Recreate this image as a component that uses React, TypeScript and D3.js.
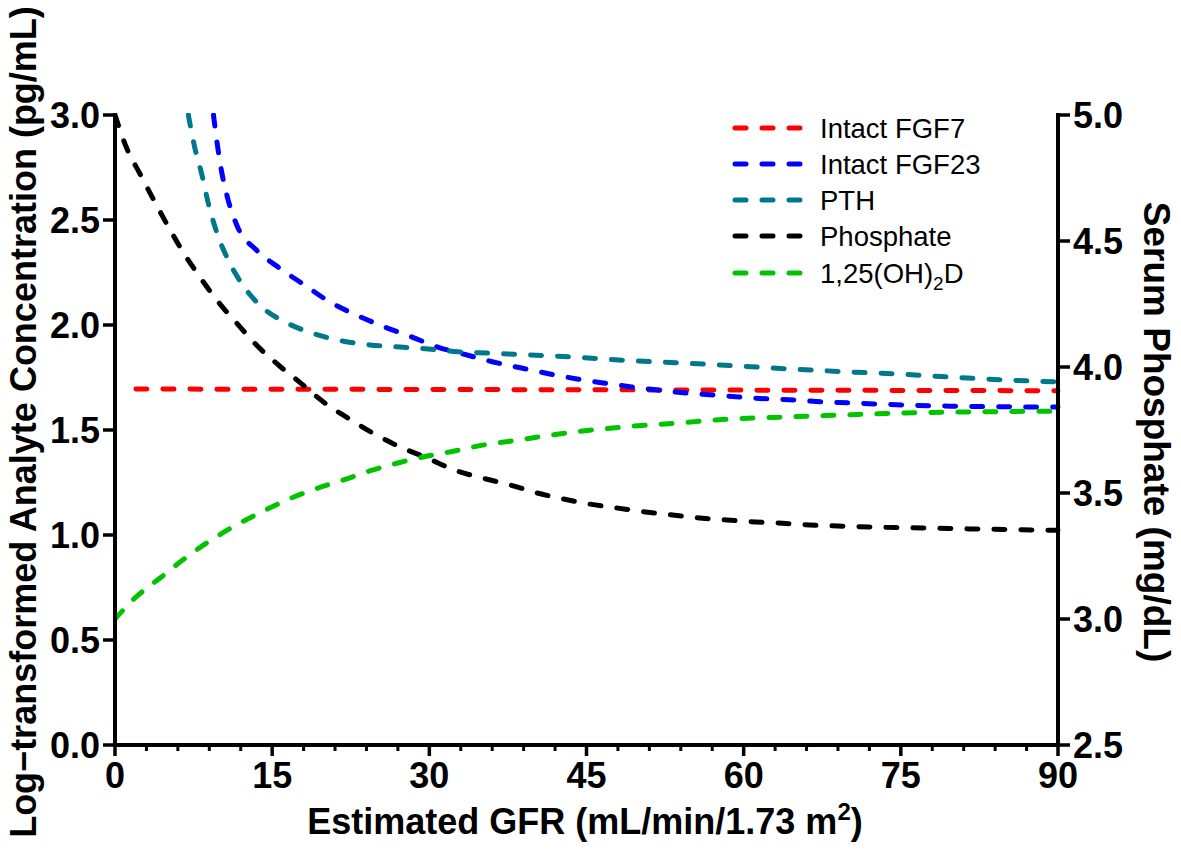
import React from "react";
import * as d3 from "d3";

// GFR (x) values and analyte values
const fgf7Gfr = [2, 30, 60, 90];
const fgf7Val = [1.695, 1.693, 1.69, 1.687];

const fgf23Gfr = [9.4, 9.8, 10.2, 10.8, 11.7, 13.5, 15.7, 18.1, 20.5, 23.0, 25.5, 28.2, 30.8, 33.6, 36.1, 38.8, 41.5, 44.1, 46.6, 49.3, 51.8, 54.6, 57.1, 59.6, 62.3, 64.9, 67.5, 70.1, 72.7, 75.4, 78.1, 80.8, 83.5, 86.1, 90];
const fgf23Val = [3.0, 2.848, 2.724, 2.595, 2.467, 2.357, 2.271, 2.19, 2.11, 2.048, 1.995, 1.945, 1.895, 1.857, 1.824, 1.795, 1.767, 1.743, 1.724, 1.705, 1.69, 1.676, 1.667, 1.657, 1.648, 1.643, 1.634, 1.629, 1.624, 1.619, 1.615, 1.613, 1.611, 1.61, 1.609];

const pthGfr = [7.0, 7.6, 8.3, 8.9, 9.7, 10.8, 12.2, 14.0, 16.4, 18.9, 21.7, 24.3, 27.2, 29.9, 32.7, 35.6, 38.3, 43.6, 48.9, 54.1, 59.4, 64.6, 69.9, 74.9, 79.7, 84.7, 90];
const pthVal = [3.0, 2.848, 2.714, 2.581, 2.443, 2.31, 2.19, 2.086, 2.01, 1.96, 1.924, 1.905, 1.895, 1.886, 1.873, 1.866, 1.86, 1.848, 1.831, 1.819, 1.805, 1.79, 1.777, 1.766, 1.752, 1.739, 1.729];

const phosGfr = [0, 1.1, 2.4, 3.8, 5.1, 6.5, 8.1, 9.9, 11.7, 13.5, 15.6, 17.7, 19.9, 22.2, 24.6, 27.2, 29.8, 32.4, 35.0, 37.7, 40.3, 42.8, 45.3, 48.0, 50.6, 53.2, 55.8, 58.4, 61.1, 63.7, 66.3, 69.0, 72.1, 77.1, 82.4, 90];
const phosVal = [5.0, 4.87, 4.765, 4.655, 4.556, 4.456, 4.357, 4.256, 4.17, 4.087, 4.008, 3.937, 3.861, 3.798, 3.738, 3.683, 3.639, 3.591, 3.56, 3.532, 3.5, 3.476, 3.456, 3.44, 3.425, 3.413, 3.401, 3.393, 3.385, 3.38, 3.373, 3.369, 3.365, 3.361, 3.357, 3.352];

const vitDGfr = [0, 1.9, 4.3, 6.7, 8.9, 11.3, 13.8, 16.4, 19.1, 21.8, 24.3, 27.0, 29.8, 32.4, 35.1, 37.9, 43.1, 48.4, 53.6, 58.7, 63.9, 69.2, 74.6, 79.9, 85.1, 90];
const vitDVal = [0.6, 0.7, 0.795, 0.89, 0.967, 1.04, 1.105, 1.167, 1.219, 1.262, 1.305, 1.343, 1.376, 1.4, 1.428, 1.448, 1.486, 1.514, 1.533, 1.552, 1.562, 1.571, 1.58, 1.585, 1.588, 1.59];

const xTicks = [0, 15, 30, 45, 60, 75, 90];
const xMinorTicks = d3.range(0, 91, 3);
const yLeftTicks = [0, 0.5, 1.0, 1.5, 2.0, 2.5, 3.0];
const yRightTicks = [2.5, 3.0, 3.5, 4.0, 4.5, 5.0];

const legendLabels = ["Intact FGF7", "Intact FGF23", "PTH", "Phosphate", "1,25(OH)2D"];

const W = 1181, H = 857;
const X0 = 115, X1 = 1058, Y0 = 745, Y1 = 115;
const FONT = "'Liberation Sans', Arial, Helvetica, sans-serif";

export default function App() {
  const x = d3.scaleLinear().domain([0, 90]).range([X0, X1]);
  const yL = d3.scaleLinear().domain([0, 3]).range([Y0, Y1]);
  const yR = d3.scaleLinear().domain([2.5, 5]).range([Y0, Y1]);

  const mk = (gs: number[], vs: number[]) => gs.map((g, i) => [g, vs[i]] as [number, number]);
  const lineL = d3.line<[number, number]>().x(d => x(d[0])).y(d => yL(d[1])).curve(d3.curveMonotoneX);
  const lineR = d3.line<[number, number]>().x(d => x(d[0])).y(d => yR(d[1])).curve(d3.curveMonotoneX);

  const series = [
    { name: legendLabels[0], color: "#ff0000", d: lineL(mk(fgf7Gfr, fgf7Val)) },
    { name: legendLabels[1], color: "#0000ff", d: lineL(mk(fgf23Gfr, fgf23Val)) },
    { name: legendLabels[2], color: "#00788c", d: lineL(mk(pthGfr, pthVal)) },
    { name: legendLabels[3], color: "#000000", d: lineR(mk(phosGfr, phosVal)) },
    { name: legendLabels[4], color: "#00c400", d: lineL(mk(vitDGfr, vitDVal)) },
  ];

  const dash = "11 16";
  const legendY = [128, 164, 200, 236, 273];

  return (
    <svg width={W} height={H} style={{ position: "absolute", left: 0, top: 0, background: "#fff" }} fontFamily={FONT}>
      <defs>
        <clipPath id="plot"><rect x={X0} y={Y1 - 2} width={X1 - X0 + 4} height={Y0 - Y1 + 2} /></clipPath>
      </defs>
      <g clipPath="url(#plot)">
        {series.map(s => (
          <path key={s.name} d={s.d || ""} fill="none" stroke={s.color} strokeWidth={5} strokeDasharray={dash} strokeLinecap="round" />
        ))}
      </g>

      {/* axes */}
      <line x1={X0} x2={X0} y1={Y1 - 2} y2={Y0 + 2} stroke="#000" strokeWidth={4} />
      <line x1={X1} x2={X1} y1={Y1 - 2} y2={Y0 + 2} stroke="#000" strokeWidth={4} />
      <line x1={X0 - 2} x2={X1 + 2} y1={Y0} y2={Y0} stroke="#000" strokeWidth={4} />

      {/* x minor ticks */}
      {xMinorTicks.filter(t => t % 15 !== 0).map(t => (
        <line key={"m" + t} x1={x(t)} x2={x(t)} y1={Y0} y2={Y0 + 6} stroke="#000" strokeWidth={3} />
      ))}
      {xTicks.map(t => (
        <g key={"x" + t}>
          <line x1={x(t)} x2={x(t)} y1={Y0} y2={Y0 + 11} stroke="#000" strokeWidth={3.5} />
          <text x={x(t)} y={788} textAnchor="middle" fontSize={36} fontWeight="bold">{t}</text>
        </g>
      ))}
      {yLeftTicks.map(t => (
        <g key={"yl" + t}>
          <line x1={X0 - 12} x2={X0} y1={yL(t)} y2={yL(t)} stroke="#000" strokeWidth={3.5} />
          <text x={X0 - 15} y={yL(t) + 13} textAnchor="end" fontSize={36} fontWeight="bold">{t.toFixed(1)}</text>
        </g>
      ))}
      {yRightTicks.map(t => (
        <g key={"yr" + t}>
          <line x1={X1} x2={X1 + 12} y1={yR(t)} y2={yR(t)} stroke="#000" strokeWidth={3.5} />
          <text x={X1 + 15} y={yR(t) + 13} textAnchor="start" fontSize={36} fontWeight="bold">{t.toFixed(1)}</text>
        </g>
      ))}

      {/* axis titles */}
      <text x={585} y={834} textAnchor="middle" fontSize={36} fontWeight="bold">
        Estimated GFR (mL/min/1.73 m<tspan dy={-14} fontSize={24}>2</tspan><tspan dy={14}>)</tspan>
      </text>
      <text transform={`translate(36, 422) rotate(-90)`} textAnchor="middle" fontSize={36} fontWeight="bold">
        Log−transformed Analyte Concentration (pg/mL)
      </text>
      <text transform={`translate(1144, 432) rotate(90)`} textAnchor="middle" fontSize={37} fontWeight="bold">
        Serum Phosphate (mg/dL)
      </text>

      {/* legend */}
      {series.map((s, i) => (
        <g key={"lg" + i}>
          <line x1={735} x2={800} y1={legendY[i]} y2={legendY[i]} stroke={s.color} strokeWidth={5} strokeDasharray="11 16" strokeLinecap="round" />
          <text x={820} y={legendY[i] + 10} fontSize={27.5}>
            {i === 4 ? (<>1,25(OH)<tspan dy={7} fontSize={19}>2</tspan><tspan dy={-7}>D</tspan></>) : s.name}
          </text>
        </g>
      ))}
    </svg>
  );
}
